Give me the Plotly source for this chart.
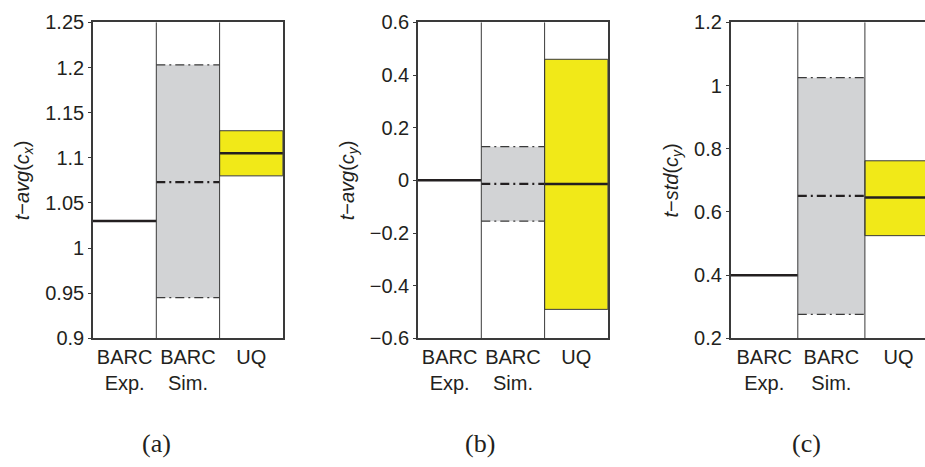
import plotly.graph_objects as go

# Statistics per quantity: t-avg(cx), t-avg(cy), t-std(cy)
categories = ["BARC<br>Exp.", "BARC<br>Sim.", "UQ"]
panel_letters = ["(a)", "(b)", "(c)"]
y_titles = [
    "<i>t</i>−<i>avg</i>(<i>c<sub>x</sub></i>)",
    "<i>t</i>−<i>avg</i>(<i>c<sub>y</sub></i>)",
    "<i>t</i>−<i>std</i>(<i>c<sub>y</sub></i>)",
]

exp_values = [1.03, 0.0, 0.40]
sim_low = [0.945, -0.155, 0.276]
sim_mean = [1.073, -0.013, 0.651]
sim_high = [1.203, 0.128, 1.025]
uq_low = [1.08, -0.49, 0.525]
uq_mean = [1.105, -0.014, 0.646]
uq_high = [1.13, 0.46, 0.762]

y_ranges = [(0.9, 1.25), (-0.6, 0.6), (0.2, 1.2)]
y_tickvals = [
    [0.9, 0.95, 1.0, 1.05, 1.1, 1.15, 1.2, 1.25],
    [-0.6, -0.4, -0.2, 0.0, 0.2, 0.4, 0.6],
    [0.2, 0.4, 0.6, 0.8, 1.0, 1.2],
]
y_ticktext = [
    ["0.9", "0.95", "1", "1.05", "1.1", "1.15", "1.2", "1.25"],
    ["−0.6", "−0.4", "−0.2", "0", "0.2", "0.4", "0.6"],
    ["0.2", "0.4", "0.6", "0.8", "1", "1.2"],
]

W, H = 925, 467
# pixel layout of each panel: left edge, column width
panel_left = [93, 418, 730.7]
col_width = [63.3, 63.3, 67.1]
plot_top, plot_bottom = 12, 343.5

GRAY = "#d2d3d5"
YELLOW = "#f1e918"
INK = "#231f20"
EDGE = "#3a3a3a"
FONT = "Liberation Sans, Arial, sans-serif"
SERIF = "Liberation Serif, DejaVu Serif, serif"

fig = go.Figure()
layout = dict(
    width=W, height=H, margin=dict(l=0, r=0, t=0, b=0),
    paper_bgcolor="white", plot_bgcolor="white", showlegend=False,
    font=dict(family=FONT, size=20, color=INK),
    shapes=[], annotations=[],
)

ydom = [1 - plot_bottom / H, 1 - plot_top / H]

for p in range(3):
    sfx = "" if p == 0 else str(p + 1)
    xa, ya = "x" + sfx, "y" + sfx
    left = panel_left[p] / W
    right = min(1.0, (panel_left[p] + 3 * col_width[p]) / W)
    xmax = min(3.0, (W - panel_left[p]) / col_width[p])
    clipped = xmax < 3.0

    # gray simulation band
    fig.add_trace(go.Bar(
        x=[1.5], y=[sim_high[p] - sim_low[p]], base=[sim_low[p]], width=1,
        marker=dict(color=GRAY, line=dict(width=0)),
        xaxis=xa, yaxis=ya, hoverinfo="skip"))
    # yellow UQ band
    fig.add_trace(go.Bar(
        x=[2.5], y=[uq_high[p] - uq_low[p]], base=[uq_low[p]], width=1,
        marker=dict(color=YELLOW, line=dict(width=1, color=EDGE)),
        xaxis=xa, yaxis=ya, hoverinfo="skip"))

    # experiment value
    fig.add_trace(go.Scatter(
        x=[0, 1], y=[exp_values[p]] * 2, mode="lines",
        line=dict(color=INK, width=2.5), xaxis=xa, yaxis=ya))
    # simulation bounds and mean (dash-dot)
    for v, wdt in ((sim_low[p], 1.2), (sim_high[p], 1.2), (sim_mean[p], 2.2)):
        fig.add_trace(go.Scatter(
            x=[1, 2], y=[v, v], mode="lines",
            line=dict(color=INK if wdt > 2 else EDGE, width=wdt,
                      dash="9px,4px,2px,4px"),
            xaxis=xa, yaxis=ya))
    # UQ mean
    fig.add_trace(go.Scatter(
        x=[2, 3], y=[uq_mean[p]] * 2, mode="lines",
        line=dict(color=INK, width=2.5), xaxis=xa, yaxis=ya))

    layout["xaxis" + sfx] = dict(
        domain=[left, right], anchor=ya, range=[0, xmax],
        tickvals=[0.5, 1.5, 2.5], ticktext=categories,
        ticks="", showgrid=False, zeroline=False,
        showline=True, linecolor=EDGE, linewidth=1.6, mirror=True,
        tickfont=dict(size=20, family=FONT, color=INK), fixedrange=True,
    )
    layout["yaxis" + sfx] = dict(
        domain=ydom, anchor=xa, range=list(y_ranges[p]),
        tickvals=y_tickvals[p], ticktext=y_ticktext[p],
        ticks="outside", ticklen=3, tickcolor=EDGE, tickwidth=1,
        showgrid=False, zeroline=False,
        showline=True, linecolor=EDGE, linewidth=1.6, mirror=not clipped,
        tickfont=dict(size=20, family=FONT, color=INK),
        title=dict(text=y_titles[p], standoff=10,
                   font=dict(size=20, family=FONT, color=INK)),
    )
    # inward ticks on the right-hand side of the box
    if not clipped:
        osfx = str(p + 4)
        layout["yaxis" + osfx] = dict(
            overlaying=ya, anchor=xa, side="right", range=list(y_ranges[p]),
            tickvals=y_tickvals[p], showticklabels=False,
            ticks="inside", ticklen=4, tickcolor=EDGE,
            showgrid=False, zeroline=False, showline=False,
        )

    # column dividers
    for xv in (1, 2):
        layout["shapes"].append(dict(
            type="line", xref=xa, yref=ya + " domain", x0=xv, x1=xv, y0=0, y1=1,
            line=dict(color=EDGE, width=1)))

    # panel caption
    cx = [156, 480, 806][p] / W
    layout["annotations"].append(dict(
        text=panel_letters[p], xref="paper", yref="paper", x=cx, y=1 - 454 / H,
        showarrow=False, xanchor="center", yanchor="middle",
        font=dict(family=SERIF, size=26, color=INK)))

fig.update_layout(**layout)
fig.write_html("out.html")
